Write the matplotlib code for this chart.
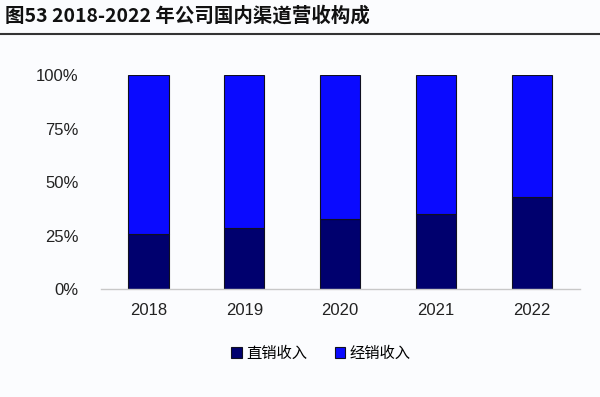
import matplotlib
matplotlib.use("Agg")
import matplotlib.pyplot as plt
from matplotlib.patches import Patch
from matplotlib.lines import Line2D

plt.rcParams['font.family'] = ['Liberation Sans', 'Noto Sans CJK SC', 'DejaVu Sans']

years = ["2018", "2019", "2020", "2021", "2022"]
direct = [0.257, 0.287, 0.327, 0.350, 0.432]
distribution = [1 - v for v in direct]
series_names = ["直销收入", "经销收入"]
title = "图53 2018-2022 年公司国内渠道营收构成"

c_direct = "#00006e"
c_dist = "#0a0aff"
bg = "#fbfcfe"

fig = plt.figure(figsize=(6, 3.97), dpi=100, facecolor=bg)
ax = fig.add_axes([100.6 / 600, 1 - 289.3 / 397, 479 / 600, 214.3 / 397])
ax.set_facecolor(bg)

x = range(len(years))
ax.bar(x, direct, width=0.42, color=c_direct, edgecolor="#101020", linewidth=0.8)
ax.bar(x, distribution, bottom=direct, width=0.42, color=c_dist,
       edgecolor="#101020", linewidth=0.8)

ax.set_xlim(-0.5, len(years) - 0.5)
ax.set_ylim(0, 1)
ax.set_yticks([0, 0.25, 0.5, 0.75, 1.0])
ax.set_yticklabels(["0%", "25%", "50%", "75%", "100%"])
ax.set_xticks(list(x))
ax.set_xticklabels(years)
ax.tick_params(axis="both", length=0, labelsize=12, colors="#222222")
ax.tick_params(axis="y", pad=16)
ax.tick_params(axis="x", pad=10)
for side in ["top", "right", "left"]:
    ax.spines[side].set_visible(False)
ax.spines["bottom"].set_color("#c8c8c8")
ax.spines["bottom"].set_linewidth(1)

handles = [Patch(facecolor=c_direct, edgecolor="#101020", linewidth=0.8),
           Patch(facecolor=c_dist, edgecolor="#101020", linewidth=0.8)]
fig.legend(handles, series_names, loc="center", bbox_to_anchor=(321 / 600, 1 - 353 / 397),
           ncol=2, frameon=False, handlelength=0.7, handleheight=0.7,
           handletextpad=0.3, columnspacing=1.8,
           prop={"family": ["Noto Sans CJK SC"], "size": 11})

fig.text(5 / 600, 1 - 16 / 397, title, fontsize=14, fontweight="bold",
         family=["Noto Sans CJK SC", "DejaVu Sans"], va="center", ha="left", color="#111111")
fig.add_artist(Line2D([0, 1], [1 - 33.5 / 397] * 2, color="#333333", linewidth=1.5,
                      transform=fig.transFigure))

fig.savefig("out.png", dpi=100, facecolor=bg)
